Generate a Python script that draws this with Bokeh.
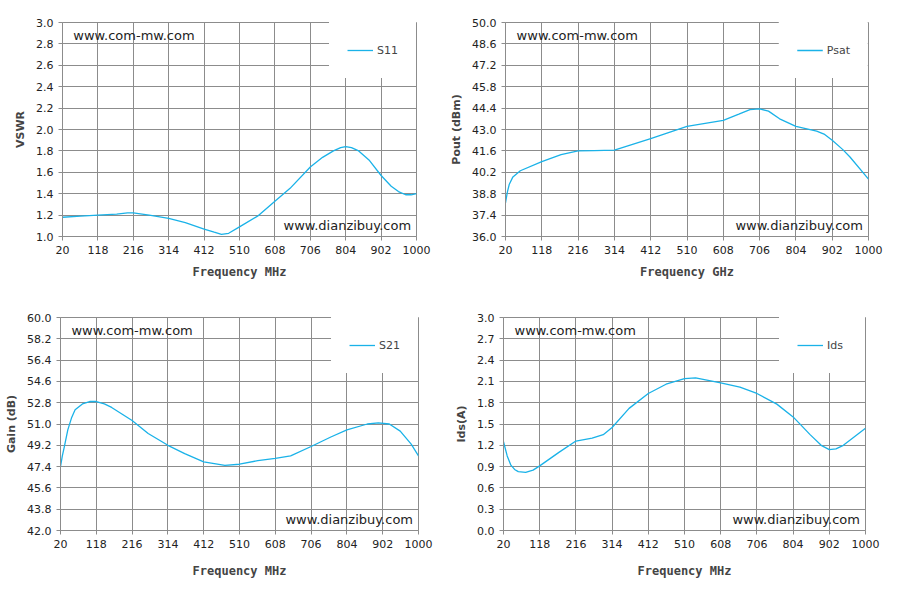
from bokeh.plotting import figure
from bokeh.layouts import column, row
from bokeh.models import FixedTicker, NumeralTickFormatter, Legend, LegendItem, Label, Range1d
from bokeh.embed import file_html
from bokeh.resources import INLINE

x_ticks = [20, 118, 216, 314, 412, 510, 608, 706, 804, 902, 1000]

s11_x = [20, 70, 118, 170, 200, 216, 260, 314, 360, 412, 440, 460, 480, 510, 560, 608, 650, 706, 740, 770, 790, 804, 820, 840, 870, 902, 930, 950, 970, 985, 1000]
s11_y = [1.18, 1.19, 1.20, 1.21, 1.22, 1.22, 1.20, 1.17, 1.13, 1.07, 1.04, 1.02, 1.03, 1.09, 1.19, 1.33, 1.45, 1.65, 1.74, 1.80, 1.83, 1.84, 1.83, 1.80, 1.71, 1.57, 1.47, 1.42, 1.39, 1.39, 1.40]

psat_x = [20, 25, 30, 40, 60, 118, 170, 216, 260, 314, 412, 510, 608, 650, 680, 706, 730, 760, 804, 860, 880, 902, 930, 950, 1000]
psat_y = [38.2, 38.9, 39.4, 39.9, 40.3, 40.9, 41.35, 41.6, 41.62, 41.65, 42.4, 43.2, 43.6, 44.0, 44.3, 44.35, 44.2, 43.7, 43.2, 42.9, 42.7, 42.3, 41.7, 41.2, 39.75]

gain_x = [20, 25, 30, 40, 50, 60, 80, 100, 118, 140, 160, 216, 260, 314, 360, 412, 470, 510, 560, 608, 650, 706, 760, 804, 860, 890, 920, 950, 980, 1000]
gain_y = [47.4, 48.3, 49.0, 50.5, 51.5, 52.2, 52.7, 52.9, 52.9, 52.7, 52.4, 51.3, 50.2, 49.2, 48.5, 47.8, 47.5, 47.6, 47.9, 48.1, 48.3, 49.1, 49.9, 50.5, 51.0, 51.1, 51.0, 50.4, 49.3, 48.3]

ids_x = [20, 30, 40, 50, 60, 80, 100, 118, 170, 216, 260, 290, 314, 360, 412, 460, 510, 540, 608, 660, 706, 760, 804, 830, 850, 880, 902, 920, 940, 970, 1000]
ids_y = [1.25, 1.05, 0.92, 0.86, 0.83, 0.82, 0.85, 0.91, 1.10, 1.26, 1.30, 1.35, 1.45, 1.72, 1.93, 2.06, 2.14, 2.15, 2.08, 2.02, 1.93, 1.78, 1.60, 1.46, 1.35, 1.20, 1.14, 1.15, 1.20, 1.32, 1.44]

LINE = "#1ab2e8"
GRID = "#8c8c8c"


def panel(xs, ys, name, ylabel, xlabel, ymin, ymax, ystep, borders, standoff):
    left, right, top, bottom = borders
    p = figure(width=442, height=290, output_backend="svg", toolbar_location=None,
               x_range=Range1d(20, 1000), y_range=Range1d(ymin, ymax),
               min_border_left=left, min_border_right=right, min_border_top=top, min_border_bottom=bottom)
    r = p.line(xs, ys, line_color=LINE, line_width=1.3)
    yt = [round(ymin + i * ystep, 2) for i in range(int(round((ymax - ymin) / ystep)) + 1)]
    p.xaxis.ticker = FixedTicker(ticks=x_ticks)
    p.yaxis.ticker = FixedTicker(ticks=yt)
    p.yaxis.formatter = NumeralTickFormatter(format="0.0")
    for ax in (p.xaxis[0], p.yaxis[0]):
        ax.axis_line_color = GRID
        ax.major_tick_line_color = GRID
        ax.minor_tick_line_color = None
        ax.major_tick_out = 4
        ax.major_tick_in = 0
        ax.major_label_text_font = "DejaVu Sans"
        ax.major_label_text_font_size = "11px"
        ax.major_label_text_color = "#222222"
        ax.axis_label_text_font_style = "bold"
    p.xaxis.axis_label = xlabel
    p.xaxis.axis_label_text_font = "DejaVu Sans Mono"
    p.xaxis.axis_label_text_font_size = "12px"
    p.xaxis.axis_label_standoff = standoff
    p.yaxis.axis_label = ylabel
    p.yaxis.axis_label_text_font = "DejaVu Sans"
    p.yaxis.axis_label_text_font_size = "11px"
    p.yaxis.axis_label_standoff = 6
    p.xgrid.grid_line_color = GRID
    p.ygrid.grid_line_color = GRID
    p.outline_line_color = GRID
    p.background_fill_color = "white"
    p.border_fill_color = "white"
    leg = Legend(items=[LegendItem(label=name, renderers=[r])], location="top_right",
                 background_fill_color="white", background_fill_alpha=1, border_line_alpha=0,
                 margin=0, padding=18, glyph_width=26, label_text_font="DejaVu Sans",
                 label_text_font_size="11px", label_standoff=4, spacing=0)
    p.add_layout(leg)
    yr = ymax - ymin
    p.add_layout(Label(x=50, y=ymax - 0.025 * yr, text="www.com-mw.com", text_baseline="top",
                       text_font="DejaVu Sans", text_font_size="13px", text_color="#222222"))
    p.add_layout(Label(x=985, y=ymin + 0.015 * yr, text="www.dianzibuy.com", text_align="right",
                       text_baseline="bottom", text_font="DejaVu Sans", text_font_size="13px",
                       text_color="#222222"))
    return p


p1 = panel(s11_x, s11_y, "S11", "VSWR", "Frequency MHz", 1.0, 3.0, 0.2, (62, 26, 22, 54), 8)
p2 = panel(psat_x, psat_y, "Psat", "Pout (dBm)", "Frequency GHz", 36.0, 50.0, 1.4, (63, 16, 22, 54), 8)
p3 = panel(gain_x, gain_y, "S21", "Gain (dB)", "Frequency MHz", 42.0, 60.0, 1.8, (60, 24, 27, 50), 13)
p4 = panel(ids_x, ids_y, "Ids", "Ids(A)", "Frequency MHz", 0.0, 3.0, 0.3, (61, 19, 27, 50), 13)

layout = column(row(p1, p2, spacing=0), row(p3, p4, spacing=0), spacing=0)
open("out.html", "w").write(file_html(layout, INLINE))
